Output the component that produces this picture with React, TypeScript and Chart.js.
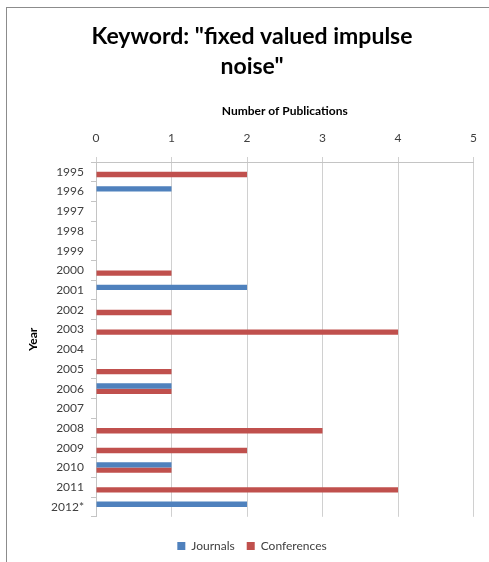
import React, { useEffect, useRef } from 'react';
import { Chart, registerables } from 'chart.js';

Chart.register(...registerables);

// Publication counts per year for the keyword search
const years = [
  '1995', '1996', '1997', '1998', '1999', '2000', '2001', '2002', '2003',
  '2004', '2005', '2006', '2007', '2008', '2009', '2010', '2011', '2012*',
];
const journals = [0, 1, 0, 0, 0, 0, 2, 0, 0, 0, 0, 1, 0, 0, 0, 1, 0, 2];
const conferences = [2, 0, 0, 0, 0, 1, 0, 1, 4, 0, 1, 1, 0, 3, 2, 1, 4, 0];

const countMin = 0;
const countMax = 5;
const countStep = 1;

const titleLines = ['Keyword: "fixed valued impulse', 'noise"'];
const xTitle = 'Number of Publications';
const yTitle = 'Year';

const FONT = 'Lato, "Open Sans", sans-serif';

export default function App() {
  const canvasRef = useRef<HTMLCanvasElement>(null);

  useEffect(() => {
    const canvas = canvasRef.current;
    if (!canvas) return;
    const chart = new Chart(canvas, {
      type: 'bar',
      data: {
        labels: years,
        datasets: [
          {
            label: 'Journals',
            data: journals,
            backgroundColor: '#4F81BD',
            borderWidth: 0,
            categoryPercentage: 0.54,
            barPercentage: 1,
          },
          {
            label: 'Conferences',
            data: conferences,
            backgroundColor: '#C0504D',
            borderWidth: 0,
            categoryPercentage: 0.54,
            barPercentage: 1,
          },
        ],
      },
      options: {
        indexAxis: 'y',
        responsive: false,
        animation: false,
        devicePixelRatio: 1,
        layout: { padding: { top: 10, left: 26, right: 11, bottom: 0 } },
        plugins: {
          tooltip: { enabled: false },
          title: {
            display: true,
            text: titleLines,
            color: '#000000',
            font: { family: FONT, size: 23, weight: 'bold', lineHeight: 30 / 23 },
            padding: { top: 12, bottom: 10 },
          },
          legend: {
            position: 'bottom',
            title: {
              display: true,
              text: ' ',
              font: { size: 1 },
              padding: { top: 10, bottom: 0 },
            },
            labels: {
              boxWidth: 8,
              boxHeight: 8,
              padding: 12,
              color: '#404040',
              font: { family: FONT, size: 12 },
            },
          },
        },
        scales: {
          x: {
            position: 'top',
            min: countMin,
            max: countMax,
            ticks: {
              stepSize: countStep,
              color: '#404040',
              padding: 12,
              font: { family: FONT, size: 12 },
            },
            grid: {
              color: '#d0d0d0',
              tickLength: 5,
              drawTicks: true,
            },
            border: { color: '#c4c4c4' },
            title: {
              display: true,
              text: xTitle,
              color: '#000000',
              font: { family: FONT, size: 12, weight: 'bold' },
              padding: { top: 12, bottom: 0 },
            },
            afterFit: (scale: any) => {
              scale.height = 70;
            },
          },
          y: {
            offset: true,
            ticks: {
              color: '#404040',
              padding: 7,
              font: { family: FONT, size: 12 },
            },
            grid: {
              offset: true,
              drawOnChartArea: false,
              drawTicks: true,
              tickLength: 5,
              color: '#c4c4c4',
            },
            border: { color: '#c4c4c4' },
            title: {
              display: true,
              text: yTitle,
              color: '#000000',
              font: { family: FONT, size: 12, weight: 'bold' },
              padding: { top: 0, bottom: 0 },
            },
            afterFit: (scale: any) => {
              scale.width = 70;
            },
          },
        },
      },
    });
    return () => chart.destroy();
  }, []);

  return (
    <div
      style={{
        position: 'absolute',
        left: 0,
        top: 0,
        width: 489,
        height: 562,
        overflow: 'hidden',
        background: '#ffffff',
      }}
    >
      <canvas
        ref={canvasRef}
        width={489}
        height={562}
        style={{ position: 'absolute', left: 0, top: 0 }}
      />
      <div
        style={{
          position: 'absolute',
          left: 6,
          top: 7,
          width: 483,
          height: 555,
          borderLeft: '1px solid #8c8c8c',
          borderTop: '1px solid #8c8c8c',
          boxSizing: 'border-box',
          pointerEvents: 'none',
        }}
      />
    </div>
  );
}
